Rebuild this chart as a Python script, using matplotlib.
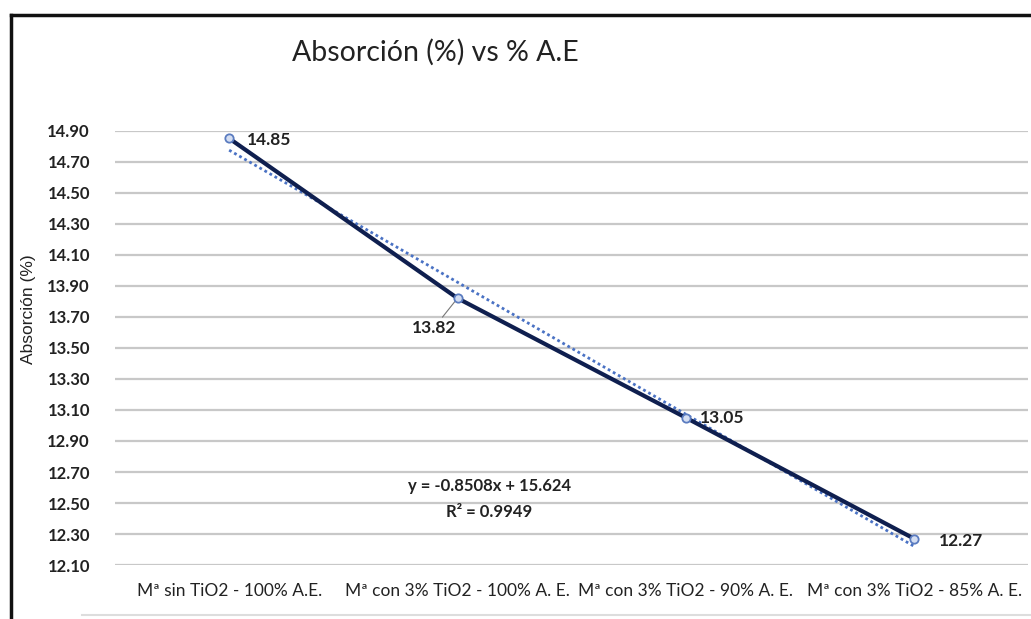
import matplotlib
matplotlib.use("Agg")
import matplotlib.pyplot as plt
import numpy as np

plt.rcParams['font.family'] = ['Lato', 'DejaVu Sans']

categorias = ["Mª sin TiO2 - 100% A.E.", "Mª con 3% TiO2 - 100% A. E.",
              "Mª con 3% TiO2 - 90% A. E.", "Mª con 3% TiO2 - 85% A. E."]
absorcion = [14.85, 13.82, 13.05, 12.27]
etiquetas = ["14.85", "13.82", "13.05", "12.27"]
y_ticks = [12.10, 12.30, 12.50, 12.70, 12.90, 13.10, 13.30, 13.50, 13.70,
           13.90, 14.10, 14.30, 14.50, 14.70, 14.90]
ecuacion = "y = -0.8508x + 15.624"
r2 = "R² = 0.9949"

fig = plt.figure(figsize=(10.31, 6.19), dpi=100)
ax = fig.add_axes([0.1115, 0.087, 0.886, 0.702])

x = np.arange(1, len(absorcion) + 1)

# linea de tendencia (ajuste lineal)
pend, inter = np.polyfit(x, absorcion, 1)
ax.plot(x, pend * x + inter, color="#4a72c4", linestyle=(0, (1, 1.1)), linewidth=2, zorder=2)

ax.plot(x, absorcion, color="#0f1f4f", linewidth=3, zorder=3)
ax.plot(x, absorcion, linestyle="none", marker="o", markersize=6, markerfacecolor="#d4def2",
        markeredgecolor="#5b7cc0", markeredgewidth=1.3, zorder=4)

ax.set_xlim(0.5, 4.5)
ax.set_ylim(12.10, 14.90)
ax.set_yticks(y_ticks)
ax.set_yticklabels([f"{v:.2f}" for v in y_ticks], fontsize=12, fontweight="bold", color="#222222")
ax.set_xticks(x)
ax.set_xticklabels(categorias, fontsize=12.5, color="#222222")
ax.tick_params(axis="both", length=0)
ax.tick_params(axis="y", pad=18)
ax.tick_params(axis="x", pad=13)
ax.grid(axis="y", color="#c8c8c8", linewidth=1.6)
ax.set_axisbelow(True)
for s in ax.spines.values():
    s.set_visible(False)

# etiquetas de datos
ax.annotate(etiquetas[0], (x[0], absorcion[0]), xytext=(13, -5), textcoords="offset points",
            fontsize=12.5, fontweight="bold", color="#222222")
ax.annotate(etiquetas[1], (x[1], absorcion[1]), xytext=(-33, -25), textcoords="offset points",
            fontsize=12.5, fontweight="bold", color="#222222",
            arrowprops=dict(arrowstyle="-", color="#777777", lw=0.8, shrinkA=0, shrinkB=3))
ax.annotate(etiquetas[2], (x[2], absorcion[2]), xytext=(10, -4), textcoords="offset points",
            fontsize=12.5, fontweight="bold", color="#222222")
ax.annotate(etiquetas[3], (x[3], absorcion[3]), xytext=(18, -5), textcoords="offset points",
            fontsize=12.5, fontweight="bold", color="#222222")

ax.text(2.14, 12.58, ecuacion, fontsize=12, fontweight="bold", color="#222222", ha="center")
ax.text(2.14, 12.41, r2, fontsize=12, fontweight="bold", color="#222222", ha="center")

fig.text(0.028, 0.50, "Absorción (%)", rotation=90, fontsize=12.5, color="#222222",
         ha="center", va="center", family=["Liberation Sans", "DejaVu Sans"])
fig.text(0.422, 0.915, "Absorción (%) vs % A.E", fontsize=20.5, color="#222222",
         ha="center", va="center")

# marco del grafico
fig.add_artist(plt.Line2D([0.011, 1.0], [0.975, 0.975], color="#111111", linewidth=2.5))
fig.add_artist(plt.Line2D([0.011, 0.011], [0.0, 0.975], color="#111111", linewidth=2.5))
fig.add_artist(plt.Line2D([0.08, 1.0], [0.006, 0.006], color="#dddddd", linewidth=1.5))

fig.savefig("out.png", dpi=100)
